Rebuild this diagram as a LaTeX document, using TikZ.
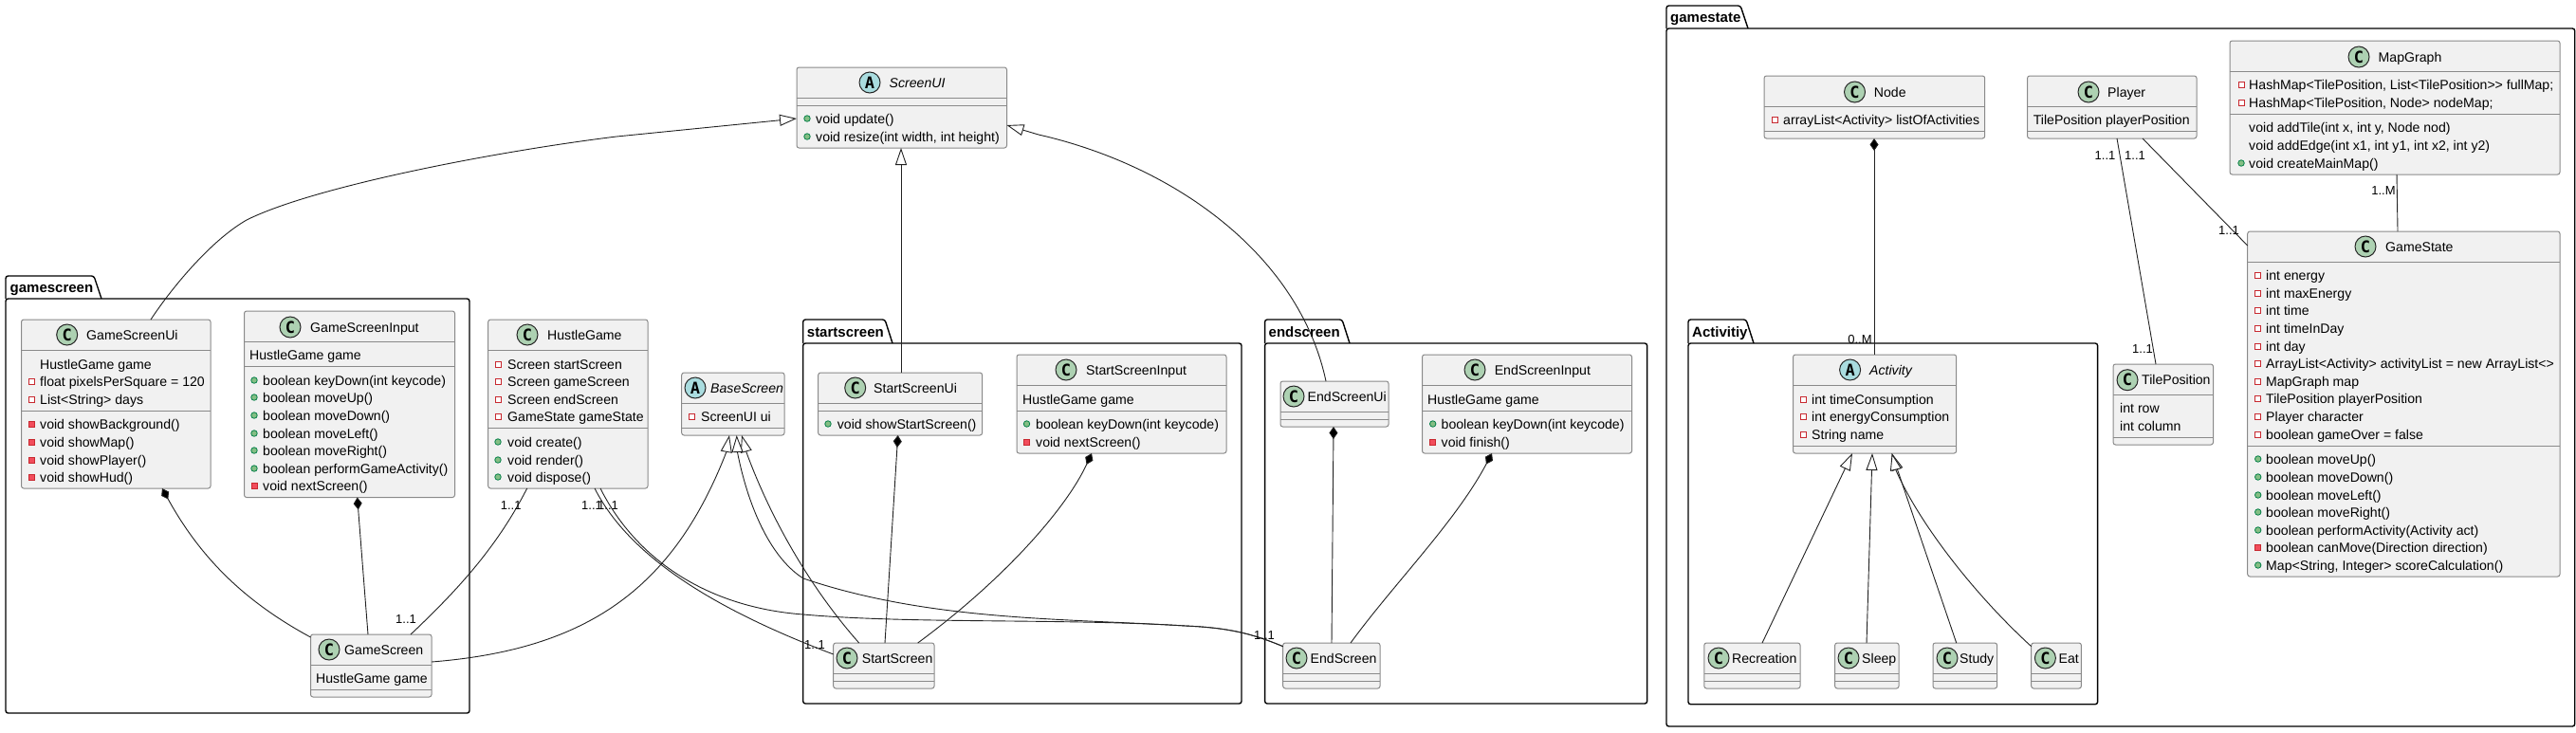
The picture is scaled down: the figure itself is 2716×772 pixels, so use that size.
\documentclass[tikz,border=0pt]{standalone}
\usepackage{fontspec}
\setmainfont{Liberation Sans}
\newfontfamily\badgefont{DejaVu Sans Mono}
\usetikzlibrary{arrows.meta}
\definecolor{boxfill}{HTML}{F1F1F1}
\definecolor{boxline}{HTML}{8A8A8A}
\definecolor{edgeline}{HTML}{222222}
\definecolor{cbadge}{HTML}{ADD1B2}
\definecolor{abadge}{HTML}{A9DCDF}
\definecolor{pubfill}{HTML}{84BE84}
\definecolor{publine}{HTML}{038048}
\definecolor{prifill}{HTML}{F24D5C}
\definecolor{priline}{HTML}{C82930}
\tikzset{
  pkgbody/.style={draw=black,line width=1.4pt,fill=white,rounded corners=2.5pt,inner sep=0pt,outer sep=0pt,anchor=north west},
  pkgtab/.style={draw=black,line width=1.4pt,fill=white,rounded corners=2.5pt},
  pkglabel/.style={inner sep=0pt,anchor=base west,font=\fontsize{15}{18}\selectfont\bfseries},
  classbox/.style={draw=boxline,line width=1pt,fill=boxfill,rounded corners=2.5pt,inner sep=0pt,outer sep=0pt,anchor=north west},
  sepline/.style={draw=boxline,line width=1pt},
  badge/.style={circle,draw=black!85,line width=1pt,minimum size=22pt,inner sep=0pt,font=\fontsize{17}{17}\badgefont\bfseries},
  titletext/.style={inner sep=0pt,anchor=base west,font=\fontsize{14.1}{17}\selectfont},
  memtext/.style={inner sep=0pt,anchor=base west,font=\fontsize{14.1}{17}\selectfont},
  pubicon/.style={circle,draw=publine,fill=pubfill,line width=.8pt,minimum size=6.5pt,inner sep=0pt},
  priicon/.style={rectangle,draw=priline,fill=prifill,line width=.8pt,minimum size=6pt,inner sep=0pt},
  prvicon/.style={rectangle,draw=priline,fill=white,line width=.8pt,minimum size=6pt,inner sep=0pt},
  conn/.style={draw=edgeline,line width=.9pt},
  inherit/.style={conn,-{Triangle[open,length=18pt,width=12pt,fill=white]}},
  compose/.style={conn,{Diamond[length=13pt,width=9pt,fill=black]}-},
  multlabel/.style={inner sep=0pt,font=\fontsize{13}{15}\selectfont}
}
\newcount\autoid
\newcommand{\nextid}{\global\advance\autoid by 1 }
\newcommand{\pkgframe}[9]{%
  \draw[pkgtab] (#2,#4) |- (#7-8,#3) -- (#7,#4);
  \node[pkgbody,minimum width=(#5-#2)*1pt,minimum height=(#6-#4)*1pt] (#1) at (#2,#4) {};
  \node[pkglabel] (#1-label) at (#9,#4-7) {#8};
}
\newcommand{\cbox}[6]{%
  \node[classbox,minimum width=(#4-#2)*1pt,minimum height=(#5-#3)*1pt] (#1) at (#2,#3) {};
  \foreach \s in {#6} {\draw[sepline] (#2,\s) -- (#4,\s);}
}
\newcommand{\ctitle}[5]{% name cx cy tx text
  \node[badge,fill=cbadge] (#1-badge) at (#2,#3) {C};
  \node[titletext] (#1-title) at (#4,#3+5) {#5};
}
\newcommand{\atitle}[5]{%
  \node[badge,fill=abadge] (#1-badge) at (#2,#3) {A};
  \node[titletext] (#1-title) at (#4,#3+5) {\itshape #5};
}
\newcommand{\setmem}[2]{\def\memix{#1}\def\memtx{#2}}
\newcommand{\mtext}[2]{\nextid\node[memtext] (mt\the\autoid) at (\memtx,#1+5) {#2};}
\newcommand{\mplain}[2]{\mtext{#1}{#2}}
\newcommand{\mpub}[2]{\nextid\node[pubicon] (mi\the\autoid) at (\memix,#1) {};\mtext{#1}{#2}}
\newcommand{\mpri}[2]{\nextid\node[priicon] (mi\the\autoid) at (\memix,#1) {};\mtext{#1}{#2}}
\newcommand{\mprv}[2]{\nextid\node[prvicon] (mi\the\autoid) at (\memix,#1) {};\mtext{#1}{#2}}
\newcommand{\mult}[3]{\nextid\node[multlabel] (ml\the\autoid) at (#1,#2) {#3};}
\begin{document}
\begin{tikzpicture}[x=1pt,y=-1pt]
\useasboundingbox (0,0) rectangle (2716,772);
% packages
\pkgframe{pgame}{6}{291}{315}{495}{752}{107}{gamescreen}{10.5}
\pkgframe{pstart}{846.7}{337}{362}{1309}{742}{941}{startscreen}{850.7}
\pkgframe{pend}{1333.6}{337}{362}{1736.6}{742}{1423}{endscreen}{1337.5}
\pkgframe{pstate}{1757}{6}{30}{2714.7}{766}{1843}{gamestate}{1761}
\pkgframe{pact}{1780}{337}{362}{2211.6}{742.7}{1849}{Activitiy}{1784}
% class frames
\cbox{gsui}{22.5}{337}{222}{515}{369,433}
\cbox{gsin}{257.5}{328}{479.5}{524.5}{360.5,386}
\cbox{gs}{327.5}{669}{455}{735}{701,727}
\cbox{hg}{514.7}{337}{683}{515}{369,451.7}
\cbox{bs}{718.7}{393}{827}{459}{425,451}
\cbox{sui}{840}{71}{1061.5}{156}{103,111}
\cbox{ssui}{862.7}{393}{1035.6}{459}{425,433}
\cbox{ssin}{1072}{374}{1293}{478}{406,433}
\cbox{ss}{878.7}{678}{985}{726}{710,718}
\cbox{esui}{1350}{402}{1464}{450}{434,442}
\cbox{esin}{1499.5}{374}{1720.5}{478}{406,433}
\cbox{es}{1352.7}{678}{1455}{726}{710,718}
\cbox{nod}{1860}{80}{2092.7}{146}{112,138}
\cbox{pl}{2137.5}{80}{2316}{146}{112,138}
\cbox{mg}{2351}{43}{2699}{184}{75,120}
\cbox{gst}{2369.7}{244}{2699}{608}{276,470}
\cbox{tp}{2228}{384}{2333.5}{469}{416,461}
\cbox{act}{1890.5}{374}{2062.7}{478}{406,470}
\cbox{rec}{1796.8}{678}{1898}{726}{710,718}
\cbox{sl}{1934.6}{678}{2002}{726}{710,718}
\cbox{st}{2038}{678}{2105.6}{726}{710,718}
\cbox{eat}{2141.7}{678}{2194.4}{726}{710,718}
% connectors
\draw[inherit] ([xshift=136.5pt]gsui.north west) .. controls (178,308) and (220,255) .. (260,232) .. controls (330,197) and (520,160) .. (650,144) -- ([yshift=-54pt]sui.north west);
\draw[inherit] ([xshift=87.3pt]ssui.north west) -- ([xshift=110pt]sui.south west);
\draw[inherit] ([xshift=48pt]esui.north west) .. controls (1370,270) and (1240,175) .. (1095,142) -- ([yshift=-61pt]sui.north east);
\draw[compose] ([xshift=148.5pt]gsui.south west) .. controls (215,595) and (265,638) .. ([yshift=-3pt]gs.north west);
\draw[compose] ([xshift=119.2pt]gsin.south west) -- ([xshift=60.5pt]gs.north west);
\draw[conn] ([xshift=41pt]hg.south west) .. controls (525,575) and (485,620) .. ([xshift=105.5pt]gs.north west);
\draw[conn] ([xshift=112.3pt]hg.south west) .. controls (665,590) and (760,645) .. ([yshift=-12pt]ss.north west);
\draw[conn] ([xshift=118.3pt]hg.south west) .. controls (668,585) and (740,640) .. (847,648) .. controls (960,658) and (1120,652) .. (1250,660) .. controls (1295,662) and (1320,668) .. ([yshift=-3.7pt]es.north west);
\draw[inherit] ([yshift=-29pt]gs.north east) .. controls (620,685) and (710,620) .. (765.7,477) -- ([xshift=50.3pt]bs.south west);
\draw[inherit] ([xshift=27pt]ss.north west) .. controls (850,615) and (810,540) .. (787,477) -- ([xshift=63.3pt]bs.south west);
\draw[inherit] ([yshift=-3.7pt]es.north west) .. controls (1320,668) and (1295,662) .. (1250,660) .. controls (1120,652) and (980,655) .. (847,610) .. controls (815,590) and (790,540) .. (777.5,477) -- ([xshift=58pt]bs.south west);
\draw[compose] ([xshift=84pt]ssui.south west) -- ([xshift=54.3pt]ss.north west);
\draw[compose] ([xshift=79pt]ssin.south west) .. controls (1125,535) and (1060,610) .. ([xshift=89pt]ss.north west);
\draw[compose] ([xshift=56pt]esui.south west) -- ([xshift=51.3pt]es.north west);
\draw[compose] ([xshift=73.5pt]esin.south west) .. controls (1535,550) and (1470,615) .. ([xshift=71.3pt]es.north west);
\draw[compose] ([xshift=116pt]nod.south west) -- ([xshift=85.5pt]act.north west);
\draw[conn] ([xshift=94.5pt]pl.south west) -- ([xshift=45pt]tp.north west);
\draw[conn] ([xshift=121.5pt]pl.south west) -- ([yshift=-15pt]gst.north west);
\draw[conn] ([xshift=176pt]mg.south west) -- ([xshift=158.3pt]gst.north west);
\draw[inherit] ([xshift=61.2pt]rec.north west) -- ([xshift=62.5pt]act.south west);
\draw[inherit] ([xshift=33.4pt]sl.north west) -- ([xshift=83.5pt]act.south west);
\draw[inherit] ([xshift=24.7pt]st.north west) -- ([xshift=104.2pt]act.south west);
\draw[inherit] ([yshift=-3.7pt]eat.north west) .. controls (2085,630) and (2025,555) .. (1999,496) -- ([xshift=104.2pt]act.south west);
% multiplicities
\mult{538.7}{533}{1..1}\mult{428}{653}{1..1}
\mult{624}{533}{1..1}\mult{859}{680}{1..1}
\mult{641}{533}{1..1}\mult{1333}{670}{1..1}
\mult{1961}{358}{0..M}
\mult{2219.5}{164}{1..1}\mult{2259}{368}{1..1}
\mult{2251}{164}{1..1}\mult{2350}{243}{1..1}
\mult{2513}{201}{1..M}
% class contents
\ctitle{gsui}{70.7}{353}{91}{GameScreenUi}
\setmem{33}{42}
\mplain{384}{HustleGame game}\mprv{402}{float pixelsPerSquare = 120}\mprv{421}{List<String> days}
\mpri{447}{void showBackground()}\mpri{466}{void showMap()}\mpri{485}{void showPlayer()}\mpri{503}{void showHud()}
\ctitle{gsin}{306}{345}{327}{GameScreenInput}
\setmem{268}{263}
\mplain{374}{HustleGame game}
\setmem{268}{277}
\mpub{401}{boolean keyDown(int keycode)}\mpub{419}{boolean moveUp()}\mpub{438}{boolean moveDown()}\mpub{457}{boolean moveLeft()}\mpub{475}{boolean moveRight()}\mpub{494}{boolean performGameActivity()}\mpri{512}{void nextScreen()}
\ctitle{gs}{347}{685}{363}{GameScreen}
\setmem{0}{333}
\mplain{715}{HustleGame game}
\ctitle{hg}{556}{353}{577}{HustleGame}
\setmem{525}{535}
\mprv{384}{Screen startScreen}\mprv{402}{Screen gameScreen}\mprv{421}{Screen endScreen}\mprv{439}{GameState gameState}
\mpub{466}{void create()}\mpub{485}{void render()}\mpub{503}{void dispose()}
\atitle{bs}{733}{409}{749}{BaseScreen}
\setmem{729}{739}
\mprv{439}{ScreenUI ui}
\atitle{sui}{917}{87}{937.5}{ScreenUI}
\setmem{851}{860}
\mpub{125}{void update()}\mpub{144}{void resize(int width, int height)}
\ctitle{ssui}{901.7}{409}{921}{StartScreenUi}
\setmem{873}{882.7}
\mpub{447}{void showStartScreen()}
\ctitle{ssin}{1124}{390}{1145}{StartScreenInput}
\setmem{0}{1078}
\mplain{421}{HustleGame game}
\setmem{1082.5}{1092}
\mpub{447}{boolean keyDown(int keycode)}\mpri{466}{void nextScreen()}
\ctitle{ss}{893}{694}{908.7}{StartScreen}
\ctitle{esui}{1364}{418}{1378.5}{EndScreenUi}
\ctitle{esin}{1555}{390}{1575.6}{EndScreenInput}
\setmem{0}{1505}
\mplain{421}{HustleGame game}
\setmem{1510.7}{1519.5}
\mpub{447}{boolean keyDown(int keycode)}\mpri{466}{void finish()}
\ctitle{es}{1367}{694}{1381.5}{EndScreen}
\ctitle{nod}{1955.5}{97}{1975.7}{Node}
\setmem{1871}{1880}
\mprv{126}{arrayList<Activity> listOfActivities}
\ctitle{pl}{2202}{97}{2222}{Player}
\setmem{0}{2143.6}
\mplain{126}{TilePosition playerPosition}
\ctitle{mg}{2487}{60}{2507.5}{MapGraph}
\setmem{2363}{2371}
\mprv{89}{HashMap<TilePosition, List<TilePosition>{}> fullMap;}\mprv{108}{HashMap<TilePosition, Node> nodeMap;}
\mplain{134}{void addTile(int x, int y, Node nod)}\mplain{153}{void addEdge(int x1, int y1, int x2, int y2)}\mpub{172}{void createMainMap()}
\ctitle{gst}{2494}{260}{2515}{GameState}
\setmem{2380.7}{2389}
\mprv{290}{int energy}\mprv{309}{int maxEnergy}\mprv{327.5}{int time}\mprv{346}{int timeInDay}\mprv{365}{int day}\mprv{383}{ArrayList<Activity> activityList = new ArrayList<>}\mprv{402}{MapGraph map}\mprv{420}{TilePosition playerPosition}\mprv{439}{Player character}\mprv{458}{boolean gameOver = false}
\mpub{484}{boolean moveUp()}\mpub{503}{boolean moveDown()}\mpub{522}{boolean moveLeft()}\mpub{540}{boolean moveRight()}\mpub{559}{boolean performActivity(Activity act)}\mpri{577}{boolean canMove(Direction direction)}\mpub{596}{Map<String, Integer> scoreCalculation()}
\ctitle{tp}{2243}{400.7}{2258}{TilePosition}
\setmem{0}{2235}
\mplain{430}{int row}\mplain{449}{int column}
\atitle{act}{1950.6}{390}{1971}{Activity}
\setmem{1901}{1910}
\mprv{421}{int timeConsumption}\mprv{439}{int energyConsumption}\mprv{458}{String name}
\ctitle{rec}{1812}{694}{1826}{Recreation}
\ctitle{sl}{1949}{694}{1963}{Sleep}
\ctitle{st}{2053}{694}{2066}{Study}
\ctitle{eat}{2156.4}{694}{2170.5}{Eat}
\end{tikzpicture}
\end{document}
